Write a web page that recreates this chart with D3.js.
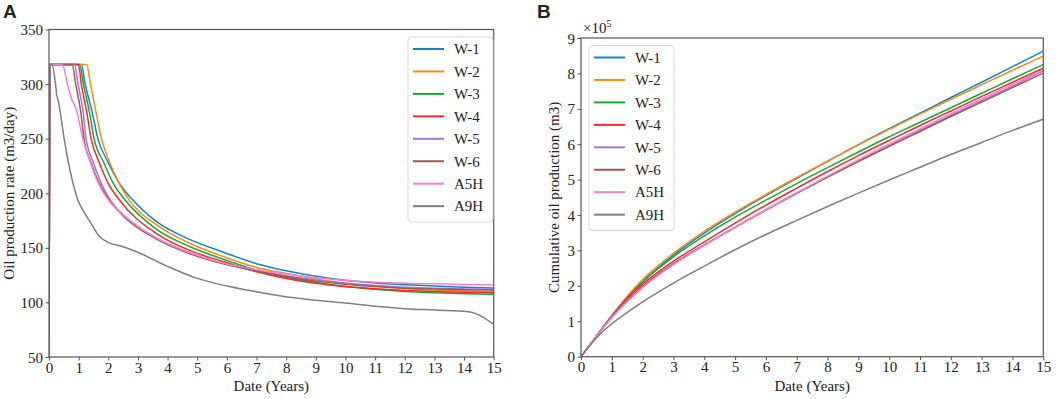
<!DOCTYPE html>
<html>
<head>
<meta charset="utf-8">
<script src="https://cdn.jsdelivr.net/npm/d3@7/dist/d3.min.js"></script>
<style>
  html, body { margin: 0; padding: 0; background: #fff; }
  svg { display: block; }
  text { font-family: "Liberation Serif", "DejaVu Serif", serif; fill: #222; }
</style>
</head>
<body>
<svg id="chart" width="1059" height="399"></svg>
<script>
// ---------------- DATA ----------------
const seriesNames = ["W-1", "W-2", "W-3", "W-4", "W-5", "W-6", "A5H", "A9H"];
const seriesColors = ["#0f86c8", "#ff8a17", "#18a83a", "#f52a2a", "#a874d6", "#a0574c", "#f77fcf", "#7f7f7f"];

// Panel A: oil production rate (m3/day) vs time (years), [year, rate]
const rateW1 = [[0,0],[0.03,318],[1.09,318],[1.22,300],[1.45,275],[1.65,250],[2.0,228],[2.4,208],[2.82,194],[3.63,174],[4.76,157.5],[5.88,146],[7,135.5],[8,129],[9,124],[10,120.2],[11,117.8],[12,116.2],[13,115],[14,114],[15,113.2]];
const rateW2 = [[0,0],[0.03,318],[1.27,318],[1.40,300],[1.58,275],[1.77,250],[2.05,228],[2.35,210],[2.70,194],[3.63,171],[4.76,154],[5.88,142],[7,132],[8,126.5],[9,121.5],[10,117.5],[11,115],[12,112.8],[13,111.3],[14,110.4],[15,109.8]];
const rateW3 = [[0,0],[0.03,318],[1.03,318],[1.16,300],[1.36,275],[1.52,250],[1.85,228],[2.15,210],[2.56,194],[3.63,167],[4.76,151],[5.88,139.5],[7,129.5],[8,123],[9,118.5],[10,114.5],[11,112],[12,110],[13,108.8],[14,108],[15,107.4]];
const rateW4 = [[0,0],[0.03,318],[0.99,318],[1.09,300],[1.27,275],[1.42,250],[1.70,228],[1.98,210],[2.37,194],[3.63,163],[4.76,147.4],[5.88,137.3],[7,128],[8,122],[9,117.5],[10,114.5],[11,112.5],[12,111],[13,110],[14,109.3],[15,108.9]];
const rateW5 = [[0,0],[0.03,318],[0.86,318],[0.98,300],[1.15,275],[1.25,250],[1.50,228],[1.75,210],[2.06,194],[2.51,180],[3.63,158.7],[4.76,145],[5.88,135.8],[7,129.7],[8,124.5],[9,120.5],[10,117.5],[11,115.5],[12,114],[13,113],[14,112.4],[15,112]];
const rateW6 = [[0,0],[0.03,318],[0.78,318],[0.90,300],[1.07,275],[1.18,250],[1.42,228],[1.68,210],[2.03,194],[2.51,179],[3.63,158],[4.76,144.5],[5.88,135.3],[7,128.5],[8,123.5],[9,119.5],[10,116.6],[11,114.5],[12,113],[13,112.2],[14,111.7],[15,111.4]];
const rateA5H = [[0,0],[0.03,318],[0.45,318],[0.62,300],[0.74,288],[0.93,276],[1.14,250],[1.40,228],[1.65,210],[2.0,194],[2.51,180],[3.63,159],[4.76,145.5],[5.88,136],[7,130],[8,126],[9,122.5],[10,120],[11,118.5],[12,117.5],[13,117],[14,116.5],[15,116]];
const rateA9H = [[0,0],[0.03,318],[0.10,318],[0.22,300],[0.26,290],[0.31,285],[0.37,276],[0.51,250],[0.70,222],[0.90,200],[0.97,194],[1.2,182],[1.38,174],[1.72,160],[2.0,155],[2.5,151],[3.07,145],[4,133],[5,122],[6,115],[7,109.8],[8,105.2],[9,102],[10,99.5],[11,96.5],[12,94.3],[13,93],[14.15,91.5],[15,80]];
const rateSeries = [rateW1, rateW2, rateW3, rateW4, rateW5, rateW6, rateA5H, rateA9H];

// Panel B: cumulative oil production (x10^5 m3)
const cumYears = [0, 0.5, 1, 1.5, 2, 3, 4, 5, 6, 7, 8, 9, 10, 11, 12, 13, 14, 15];
const cumW1  = [0, 0.58, 1.15, 1.66, 2.12, 2.87, 3.49, 4.04, 4.55, 5.04, 5.52, 5.99, 6.44, 6.88, 7.32, 7.75, 8.19, 8.63];
const cumW2  = [0, 0.58, 1.16, 1.71, 2.18, 2.92, 3.54, 4.08, 4.58, 5.06, 5.52, 5.98, 6.42, 6.85, 7.27, 7.68, 8.09, 8.49];
const cumW3  = [0, 0.58, 1.15, 1.66, 2.11, 2.82, 3.41, 3.94, 4.42, 4.89, 5.34, 5.78, 6.21, 6.62, 7.03, 7.44, 7.85, 8.25];
const cumW4  = [0, 0.58, 1.15, 1.65, 2.05, 2.70, 3.24, 3.77, 4.28, 4.76, 5.23, 5.68, 6.11, 6.53, 6.94, 7.35, 7.75, 8.15];
const cumW5  = [0, 0.58, 1.14, 1.60, 1.99, 2.63, 3.16, 3.66, 4.15, 4.62, 5.08, 5.53, 5.97, 6.39, 6.81, 7.23, 7.64, 8.07];
const cumW6  = [0, 0.58, 1.13, 1.58, 1.98, 2.62, 3.15, 3.65, 4.14, 4.61, 5.07, 5.51, 5.94, 6.36, 6.78, 7.19, 7.60, 8.01];
const cumA5H = [0, 0.58, 1.10, 1.55, 1.95, 2.60, 3.14, 3.65, 4.15, 4.63, 5.10, 5.56, 6.00, 6.43, 6.86, 7.28, 7.69, 8.10];
const cumA9H = [0, 0.53, 0.93, 1.25, 1.55, 2.08, 2.56, 3.02, 3.45, 3.85, 4.24, 4.62, 4.99, 5.35, 5.71, 6.05, 6.39, 6.71];
const cumSeries = [cumW1, cumW2, cumW3, cumW4, cumW5, cumW6, cumA5H, cumA9H];

const xTicks = [0,1,2,3,4,5,6,7,8,9,10,11,12,13,14,15];
const rateTicks = [50,100,150,200,250,300,350];
const cumTicks = [0,1,2,3,4,5,6,7,8,9];

// ---------------- DRAW ----------------
const svg = d3.select("#chart");
const frameColor = "#555";
const FS = 15;

function styleAxis(g) {
  g.selectAll("path.domain").remove();
  g.selectAll(".tick line").attr("stroke", frameColor).attr("stroke-width", 1);
  g.selectAll(".tick text").attr("font-size", FS).attr("font-family", "Liberation Serif, serif").attr("fill", "#222");
}

function panel(opts) {
  const x = d3.scaleLinear().domain([0, 15]).range([opts.x0, opts.x1]);
  const y = d3.scaleLinear().domain(opts.yDomain).range([opts.yBot, opts.yTop]);
  const clipId = "clip" + opts.id;
  svg.append("clipPath").attr("id", clipId).append("rect")
    .attr("x", opts.x0).attr("y", opts.yTop)
    .attr("width", opts.x1 - opts.x0).attr("height", opts.yBot - opts.yTop);

  const gx = svg.append("g").attr("transform", `translate(0,${opts.yBot})`)
    .call(d3.axisBottom(x).tickValues(xTicks).tickSize(3.5).tickPadding(1.5).tickFormat(d3.format("d")));
  styleAxis(gx);
  const gy = svg.append("g").attr("transform", `translate(${opts.x0},0)`)
    .call(d3.axisLeft(y).tickValues(opts.yTicks).tickSize(3.5).tickPadding(2.5).tickFormat(d3.format("d")));
  styleAxis(gy);
  gy.selectAll(".tick text").attr("dy", "0.34em");

  const lines = svg.append("g").attr("clip-path", `url(#${clipId})`);
  opts.series.forEach((pts, i) => {
    const line = d3.line().x(d => x(d[0])).y(d => y(d[1])).curve(d3.curveMonotoneX);
    lines.append("path").datum(pts)
      .attr("fill", "none").attr("stroke", seriesColors[i])
      .attr("stroke-width", 1.5).attr("stroke-linejoin", "round").attr("d", line);
  });
  // frame
  svg.append("rect").attr("x", opts.x0).attr("y", opts.yTop)
    .attr("width", opts.x1 - opts.x0).attr("height", opts.yBot - opts.yTop)
    .attr("fill", "none").attr("stroke", frameColor).attr("stroke-width", 1.2);

  // axis titles
  svg.append("text").attr("x", (opts.x0 + opts.x1) / 2).attr("y", 391)
    .attr("text-anchor", "middle").attr("font-size", FS).text("Date (Years)");
  svg.append("text")
    .attr("transform", `translate(${opts.yLabelX},${(opts.yTop + opts.yBot) / 2}) rotate(-90)`)
    .attr("text-anchor", "middle").attr("font-size", FS).text(opts.yLabel);

  // legend
  const lg = svg.append("g");
  lg.append("rect").attr("x", opts.lx).attr("y", opts.ly).attr("width", 85).attr("height", 185)
    .attr("rx", 3).attr("fill", "#fff").attr("fill-opacity", 0.85).attr("stroke", "#d8d8d8").attr("stroke-width", 1);
  seriesNames.forEach((name, i) => {
    const yy = opts.ly + 12 + i * 22.45;
    lg.append("line").attr("x1", opts.lx + 5).attr("x2", opts.lx + 36).attr("y1", yy).attr("y2", yy)
      .attr("stroke", seriesColors[i]).attr("stroke-width", 2);
    lg.append("text").attr("x", opts.lx + 46).attr("y", yy).attr("dy", "0.35em")
      .attr("font-size", FS).text(name);
  });

  // panel letter
  svg.append("text").attr("x", opts.letterX).attr("y", 18)
    .attr("font-family", "Liberation Sans, Arial, sans-serif").attr("font-weight", "bold")
    .attr("font-size", 19).attr("fill", "#111").style("font-family", "Liberation Sans, Arial, sans-serif")
    .text(opts.letter);
  return {x, y};
}

// Panel A
panel({
  id: "A", x0: 49, x1: 493.7, yTop: 29.5, yBot: 357,
  yDomain: [50, 350], yTicks: rateTicks,
  series: rateSeries,
  yLabel: "Oil production rate (m3/day)", yLabelX: 14,
  lx: 408, ly: 37, letter: "A", letterX: 3
});

// Panel B
const cumPairs = cumSeries.map(vals => vals.map((v, i) => [cumYears[i], v]));
panel({
  id: "B", x0: 581, x1: 1043.3, yTop: 38, yBot: 356.7,
  yDomain: [0, 9], yTicks: cumTicks,
  series: cumPairs,
  yLabel: "Cumulative oil production (m3)", yLabelX: 559,
  lx: 589, ly: 45.5, letter: "B", letterX: 537
});

// multiplier label
const mult = svg.append("text").attr("x", 583).attr("y", 33).attr("font-size", FS);
mult.append("tspan").text("×10");
mult.append("tspan").attr("font-size", 10).attr("dy", -6).text("5");
</script>
</body>
</html>
